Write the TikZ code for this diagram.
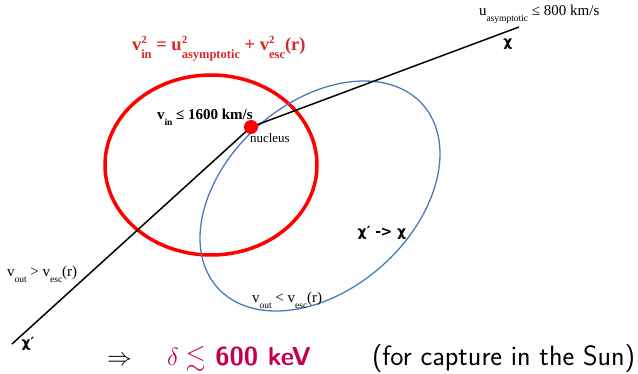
\documentclass[tikz,border=0pt]{standalone}
\usepackage{amssymb}
\usepackage{fontspec}
\setmainfont{Liberation Serif}
\newfontfamily\chifont{DejaVu Sans}
\definecolor{formred}{RGB}{215,40,40}
\definecolor{ellblue}{RGB}{74,122,187}
\definecolor{alertc}{RGB}{196,0,76}
\newcommand\supsubx[4]{\makebox[0pt][l]{\raisebox{0.42em}{\fontsize{#3}{#3}\selectfont #1}}\raisebox{-0.38em}{\fontsize{#4}{#4}\selectfont #2}}
\newcommand\subx[2]{\raisebox{-0.38em}{\fontsize{#2}{#2}\selectfont #1}}
\begin{document}
\begin{tikzpicture}[x=1pt,y=-1pt,
  lbl/.style={inner sep=0pt,outer sep=0pt,font=\fontsize{15}{17}\selectfont},
  chilbl/.style={inner sep=0pt,font=\chifont\bfseries\fontsize{14}{16}\selectfont},
  traj/.style={line width=1.5pt,black},
  nucl/.style={circle,fill=red,minimum size=14pt,inner sep=0pt}]
\useasboundingbox (0,0) rectangle (638,374);
% red circle
\draw[red,line width=3.5pt] (211,165) ellipse [x radius=106pt, y radius=90pt];
% blue ellipse
\draw[ellblue,line width=1.3pt,rotate around={41.7:(320,196)}] (320,196) ellipse [x radius=137.5pt, y radius=93.4pt];
% trajectory
\coordinate (nc) at (251,127);
\coordinate (inend) at (519,27);
\coordinate (outend) at (12,344);
\draw[traj] (outend) -- (nc) -- (inend);
\node[nucl] (nuc) at (nc) {};
% labels
\node[lbl,anchor=base west,text=formred,font=\bfseries\fontsize{18.5}{21}\selectfont] (form) at (132,51)
  {v\supsubx{2}{in}{11}{12.5} = u\supsubx{2}{asymptotic}{11}{12.5} + v\supsubx{2}{esc}{11}{12.5}(r)};
\node[lbl,anchor=base west,font=\bfseries\fontsize{15}{17}\selectfont] (vin) at (157,120)
  {v\subx{in}{9.5} ≤ 1600 km/s};
\node[lbl,anchor=base west,font=\fontsize{13}{15}\selectfont] (nuclbl) at (250,143) {nucleus};
\node[lbl,anchor=base west] (uas) at (479,16) {u\subx{asymptotic}{9.5} ≤ 800 km/s};
\node[chilbl] (chitop) at (508,44) {χ};
\node[lbl,anchor=base west] (voutgt) at (7,277) {v\subx{out}{9.5} > v\subx{esc}{9.5}(r)};
\node[chilbl] (chibot) at (28,344) {χ′};
\node[lbl,anchor=base west] (voutlt) at (252,303) {v\subx{out}{9.5} < v\subx{esc}{9.5}(r)};
\node[chilbl] (conv) at (382,233) {χ′ -\kern-0.5pt> χ};
% bottom line
\node[lbl,anchor=base west,font=\fontsize{24.88}{30}\selectfont] (impl) at (107,366) {$\Rightarrow$};
\node[lbl,anchor=base west,text=alertc,font=\sffamily\bfseries\fontsize{26}{30}\selectfont] (delta) at (167,366) {$\delta\lesssim$ 600 keV};
\node[lbl,anchor=base east,font=\sffamily\fontsize{28}{32}\selectfont] (sun) at (635,366) {(for capture in the Sun)};
\end{tikzpicture}
\end{document}
